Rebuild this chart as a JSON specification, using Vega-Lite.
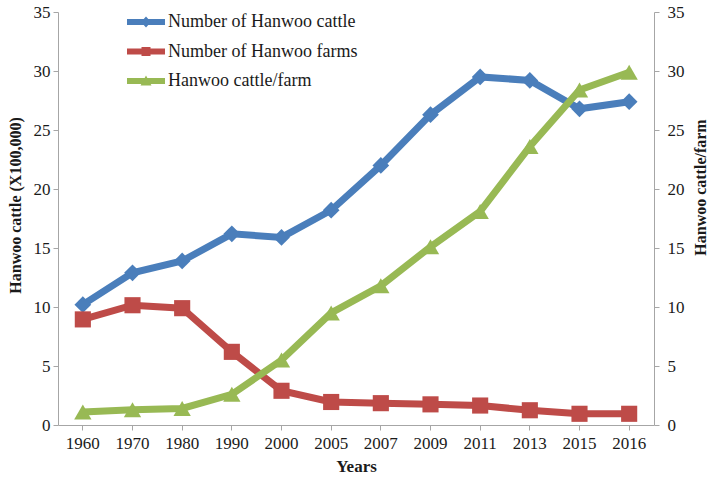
{
  "$schema": "https://vega.github.io/schema/vega-lite/v6.json",
  "width": 596,
  "height": 413,
  "autosize": {"type": "none"},
  "padding": {"left": 58, "top": 12, "right": 61, "bottom": 58},
  "background": "white",
  "config": {
    "view": {"stroke": null},
    "font": "Liberation Serif",
    "axis": {
      "labelFont": "Liberation Serif",
      "labelFontSize": 17,
      "labelColor": "#1a1a1a",
      "titleFont": "Liberation Serif",
      "titleFontSize": 16,
      "titleFontWeight": "bold",
      "titleColor": "#1a1a1a",
      "domainColor": "#a6a6a6",
      "tickColor": "#a6a6a6",
      "grid": false,
      "tickSize": 5
    },
    "legend": {
      "labelFont": "Liberation Serif",
      "labelFontSize": 18,
      "labelColor": "#1a1a1a",
      "labelLimit": 400,
      "symbolSize": 400,
      "padding": 0,
      "rowPadding": 10.5,
      "labelOffset": 12
    }
  },
  "data": {
    "values": [
      {"year": "1960", "series": "Number of Hanwoo cattle", "value": 10.2},
      {"year": "1970", "series": "Number of Hanwoo cattle", "value": 12.9},
      {"year": "1980", "series": "Number of Hanwoo cattle", "value": 13.9},
      {"year": "1990", "series": "Number of Hanwoo cattle", "value": 16.2},
      {"year": "2000", "series": "Number of Hanwoo cattle", "value": 15.9},
      {"year": "2005", "series": "Number of Hanwoo cattle", "value": 18.2},
      {"year": "2007", "series": "Number of Hanwoo cattle", "value": 22.0},
      {"year": "2009", "series": "Number of Hanwoo cattle", "value": 26.3},
      {"year": "2011", "series": "Number of Hanwoo cattle", "value": 29.5},
      {"year": "2013", "series": "Number of Hanwoo cattle", "value": 29.2},
      {"year": "2015", "series": "Number of Hanwoo cattle", "value": 26.8},
      {"year": "2016", "series": "Number of Hanwoo cattle", "value": 27.4},
      {"year": "1960", "series": "Number of Hanwoo farms", "value": 8.95},
      {"year": "1970", "series": "Number of Hanwoo farms", "value": 10.15},
      {"year": "1980", "series": "Number of Hanwoo farms", "value": 9.9},
      {"year": "1990", "series": "Number of Hanwoo farms", "value": 6.2},
      {"year": "2000", "series": "Number of Hanwoo farms", "value": 2.9},
      {"year": "2005", "series": "Number of Hanwoo farms", "value": 1.95},
      {"year": "2007", "series": "Number of Hanwoo farms", "value": 1.85},
      {"year": "2009", "series": "Number of Hanwoo farms", "value": 1.75},
      {"year": "2011", "series": "Number of Hanwoo farms", "value": 1.65},
      {"year": "2013", "series": "Number of Hanwoo farms", "value": 1.25},
      {"year": "2015", "series": "Number of Hanwoo farms", "value": 0.95},
      {"year": "2016", "series": "Number of Hanwoo farms", "value": 0.95},
      {"year": "1960", "series": "Hanwoo cattle/farm", "value": 1.1},
      {"year": "1970", "series": "Hanwoo cattle/farm", "value": 1.3},
      {"year": "1980", "series": "Hanwoo cattle/farm", "value": 1.4},
      {"year": "1990", "series": "Hanwoo cattle/farm", "value": 2.6},
      {"year": "2000", "series": "Hanwoo cattle/farm", "value": 5.5},
      {"year": "2005", "series": "Hanwoo cattle/farm", "value": 9.5},
      {"year": "2007", "series": "Hanwoo cattle/farm", "value": 11.8},
      {"year": "2009", "series": "Hanwoo cattle/farm", "value": 15.1},
      {"year": "2011", "series": "Hanwoo cattle/farm", "value": 18.1},
      {"year": "2013", "series": "Hanwoo cattle/farm", "value": 23.6},
      {"year": "2015", "series": "Hanwoo cattle/farm", "value": 28.4},
      {"year": "2016", "series": "Hanwoo cattle/farm", "value": 29.9}
    ]
  },
  "encoding": {
    "x": {
      "field": "year",
      "type": "ordinal",
      "sort": null,
      "scale": {"type": "band", "paddingInner": 0, "paddingOuter": 0},
      "axis": {"title": "Years", "labelAngle": 0, "labelPadding": 5, "titlePadding": 7, "titleFontSize": 17}
    },
    "color": {
      "field": "series",
      "type": "nominal",
      "sort": null,
      "scale": {
        "domain": ["Number of Hanwoo cattle", "Number of Hanwoo farms", "Hanwoo cattle/farm"],
        "range": ["#4a7ebb", "#be4b48", "#98b954"]
      },
      "legend": {
        "title": null,
        "orient": "none",
        "legendX": 78,
        "legendY": 0,
        "labelFont": "Liberation Serif",
        "encode": {
          "symbols": {
            "update": {
              "shape": {"signal": "datum.value === 'Number of Hanwoo cattle' ? 'M-1.9,-0.3H1.9V0.3H-1.9Z M0,-0.55L0.5,0L0,0.55L-0.5,0Z' : datum.value === 'Number of Hanwoo farms' ? 'M-1.9,-0.3H1.9V0.3H-1.9Z M-0.45,-0.45H0.45V0.45H-0.45Z' : 'M-1.9,-0.3H1.9V0.3H-1.9Z M0,-0.55L0.55,0.45H-0.55Z'"},
              "strokeWidth": {"value": 0},
              "fillOpacity": {"value": 1}
            }
          }
        }
      }
    }
  },
  "layer": [
    {
      "transform": [{"filter": "datum.series !== 'Hanwoo cattle/farm'"}],
      "encoding": {
        "y": {
          "field": "value",
          "type": "quantitative",
          "scale": {"domain": [0, 35]},
          "axis": {
            "title": "Hanwoo cattle (X100,000)",
            "values": [0, 5, 10, 15, 20, 25, 30, 35],
            "labelPadding": 3,
            "titlePadding": 10,
            "titleY": 193
          }
        }
      },
      "layer": [
        {"mark": {"type": "line", "strokeWidth": 7}},
        {
          "transform": [{"filter": "datum.series === 'Number of Hanwoo cattle'"}],
          "mark": {"type": "point", "shape": "diamond", "filled": true, "opacity": 1, "size": 280}
        },
        {
          "transform": [{"filter": "datum.series === 'Number of Hanwoo farms'"}],
          "mark": {"type": "point", "shape": "square", "filled": true, "opacity": 1, "size": 260}
        }
      ]
    },
    {
      "transform": [{"filter": "datum.series === 'Hanwoo cattle/farm'"}],
      "encoding": {
        "y": {
          "field": "value",
          "type": "quantitative",
          "scale": {"domain": [0, 35]},
          "axis": {
            "orient": "right",
            "title": "Hanwoo cattle/farm",
            "titleAngle": 270,
            "titleBaseline": "top",
            "values": [0, 5, 10, 15, 20, 25, 30, 35],
            "labelPadding": 8,
            "titlePadding": 8,
            "titleY": 175
          }
        }
      },
      "layer": [
        {"mark": {"type": "line", "strokeWidth": 7}},
        {
          "mark": {"type": "point", "shape": "triangle-up", "filled": true, "opacity": 1, "size": 300}
        }
      ]
    }
  ],
  "resolve": {"scale": {"y": "independent"}}
}
